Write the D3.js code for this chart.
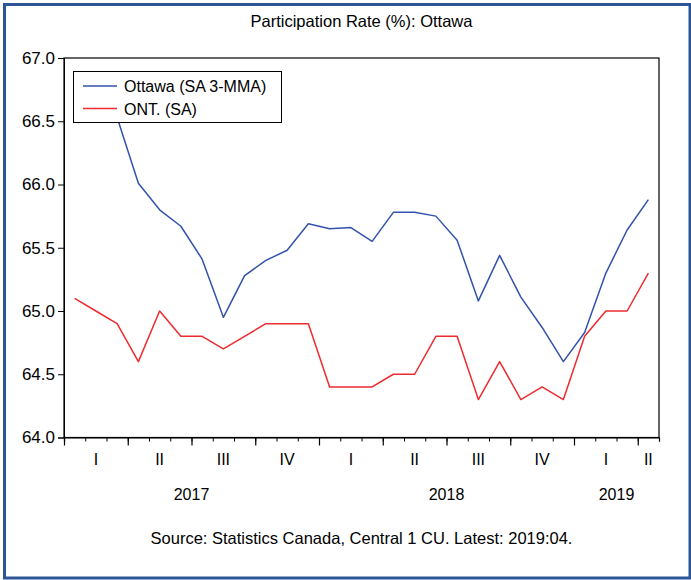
<!DOCTYPE html>
<html>
<head>
<meta charset="utf-8">
<script src="https://cdn.jsdelivr.net/npm/d3@7"></script>
<style>
  html, body { margin: 0; padding: 0; background: #fff; }
  svg { display: block; }
  text { font-family: "Liberation Sans", Arial, sans-serif; fill: #000; }
</style>
</head>
<body>
<svg id="chart" width="691" height="580"></svg>
<script>
// ---- Data (monthly, Jan 2017 .. Apr 2019) ----
const months = ["2017-01","2017-02","2017-03","2017-04","2017-05","2017-06","2017-07","2017-08","2017-09","2017-10","2017-11","2017-12",
                "2018-01","2018-02","2018-03","2018-04","2018-05","2018-06","2018-07","2018-08","2018-09","2018-10","2018-11","2018-12",
                "2019-01","2019-02","2019-03","2019-04"];
const ottawa = [null, null, 66.53, 66.01, 65.80, 65.67, 65.41, 64.95, 65.28, 65.40, 65.48, 65.69,
                65.65, 65.66, 65.55, 65.78, 65.78, 65.75, 65.56, 65.08, 65.44, 65.11, 64.87, 64.60,
                64.83, 65.30, 65.64, 65.88];
const ontario = [65.1, 65.0, 64.9, 64.6, 65.0, 64.8, 64.8, 64.7, 64.8, 64.9, 64.9, 64.9,
                 64.4, 64.4, 64.4, 64.5, 64.5, 64.8, 64.8, 64.3, 64.6, 64.3, 64.4, 64.3,
                 64.8, 65.0, 65.0, 65.3];
const yTicks = [64.0, 64.5, 65.0, 65.5, 66.0, 66.5, 67.0];
const quarterLabels = ["I","II","III","IV","I","II","III","IV","I","II"];
const yearLabels = ["2017","2018","2019"];
const seriesNames = ["Ottawa (SA 3-MMA)", "ONT. (SA)"];
const titleText = "Participation Rate (%): Ottawa";
const sourceText = "Source: Statistics Canada, Central 1 CU. Latest: 2019:04.";

// ---- Layout ----
const svg = d3.select("#chart");
const L = 64, R = 659, T = 58, B = 437.5;
const blue = "#3352ab", red = "#ee2b2f";

// outer frame
svg.append("rect").attr("x", 4.5).attr("y", 4.5).attr("width", 685.5).attr("height", 573.5)
  .attr("fill", "#fff").attr("stroke", "#2c5596").attr("stroke-width", 3);

const x = d3.scaleLinear().domain([0, months.length]).range([L, R]);
const y = d3.scaleLinear().domain([64, 67]).range([B, T]);

// plot box
svg.append("rect").attr("x", L).attr("y", T).attr("width", R - L).attr("height", B - T)
  .attr("fill", "none").attr("stroke", "#000").attr("stroke-width", 1.2);

// y axis
const yAxis = svg.append("g").attr("transform", `translate(${L},0)`)
  .call(d3.axisLeft(y).tickValues(yTicks).tickFormat(d3.format(".1f")).tickSize(6).tickPadding(3));
yAxis.select(".domain").attr("stroke", "#000");
yAxis.selectAll("text").attr("font-size", 17).attr("font-family", "Liberation Sans, Arial, sans-serif");

// x axis: minor (monthly) and major (quarterly) ticks
const monthBounds = d3.range(0, months.length + 1);
const quarterBounds = d3.range(0, months.length + 1, 3);
const xMinor = svg.append("g").attr("transform", `translate(0,${B})`)
  .call(d3.axisBottom(x).tickValues(monthBounds).tickFormat("").tickSize(4));
xMinor.select(".domain").attr("stroke", "#000").attr("stroke-width", 1.2);
const xMajor = svg.append("g").attr("transform", `translate(0,${B})`)
  .call(d3.axisBottom(x).tickValues(quarterBounds).tickFormat("").tickSize(8));
xMajor.select(".domain").remove();
xMajor.selectAll("line").attr("stroke-width", 1.2);

// quarter labels
svg.append("g").selectAll("text").data(quarterLabels).join("text")
  .attr("x", (d, i) => x((i * 3 + Math.min(i * 3 + 3, months.length)) / 2))
  .attr("y", 465).attr("text-anchor", "middle").attr("font-size", 16).text(d => d);

// year labels
svg.append("g").selectAll("text").data(yearLabels).join("text")
  .attr("x", (d, i) => x((i * 12 + Math.min(i * 12 + 12, months.length)) / 2))
  .attr("y", 500).attr("text-anchor", "middle").attr("font-size", 16).text(d => d);

// lines
const line = d3.line().defined(d => d != null).x((d, i) => x(i + 0.5)).y(d => y(d));
svg.append("path").datum(ontario).attr("d", line).attr("fill", "none")
  .attr("stroke", red).attr("stroke-width", 1.5).attr("stroke-linejoin", "round");
svg.append("path").datum(ottawa).attr("d", line).attr("fill", "none")
  .attr("stroke", blue).attr("stroke-width", 1.5).attr("stroke-linejoin", "round");

// legend
const lg = svg.append("g");
lg.append("rect").attr("x", 73.5).attr("y", 71.5).attr("width", 208).attr("height", 51)
  .attr("fill", "#fff").attr("stroke", "#000").attr("stroke-width", 1);
[blue, red].forEach((c, i) => {
  const ly = 86 + i * 22.5;
  lg.append("line").attr("x1", 83).attr("x2", 117).attr("y1", ly).attr("y2", ly)
    .attr("stroke", c).attr("stroke-width", 1.5);
  lg.append("text").attr("x", 124).attr("y", ly + 6).attr("font-size", 16).text(seriesNames[i]);
});

// title & source
svg.append("text").attr("x", (L + R) / 2).attr("y", 26.5).attr("text-anchor", "middle")
  .attr("font-size", 16.5).text(titleText);
svg.append("text").attr("x", (L + R) / 2).attr("y", 544).attr("text-anchor", "middle")
  .attr("font-size", 16.5).text(sourceText);
</script>
</body>
</html>
